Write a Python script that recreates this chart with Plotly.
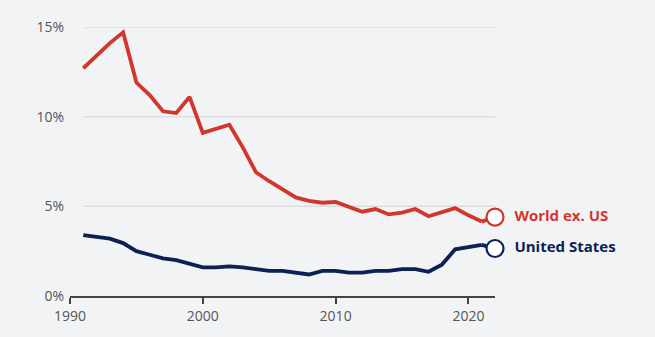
import plotly.graph_objects as go

years = list(range(1991, 2022))
world_ex_us = [12.7, 13.4, 14.1, 14.7, 11.9, 11.2, 10.3, 10.2, 11.1, 9.1, 9.3, 9.55, 8.3,
               6.9, 6.4, 5.95, 5.5, 5.3, 5.2, 5.25, 4.95, 4.7, 4.85, 4.55, 4.65, 4.85,
               4.45, 4.65, 4.9, 4.5, 4.15]
united_states = [3.4, 3.3, 3.2, 2.95, 2.5, 2.3, 2.1, 2.0, 1.8, 1.6, 1.6, 1.65, 1.6,
                 1.5, 1.4, 1.4, 1.3, 1.2, 1.4, 1.4, 1.3, 1.3, 1.4, 1.4, 1.5, 1.5,
                 1.35, 1.75, 2.6, 2.7, 2.85]
end_year = 2022
world_end = 4.4
us_end = 2.65
series_names = ["World ex. US", "United States"]
y_ticks = [0, 5, 10, 15]
x_ticks = [1990, 2000, 2010, 2020]

RED = "#d2372c"
NAVY = "#0b2252"
BG = "#f2f3f5"

fig = go.Figure()
for vals, endv, col, name in [(world_ex_us, world_end, RED, series_names[0]),
                              (united_states, us_end, NAVY, series_names[1])]:
    fig.add_trace(go.Scatter(x=years, y=vals, mode="lines",
                             line=dict(color=col, width=3.8), hoverinfo="skip",
                             showlegend=False))
    fig.add_trace(go.Scatter(x=[years[-1], end_year], y=[vals[-1], endv], mode="lines",
                             line=dict(color=col, width=3.8), showlegend=False))
    fig.add_trace(go.Scatter(x=[end_year], y=[endv], mode="markers+text",
                             marker=dict(size=17, color="white", line=dict(color=col, width=2.2)),
                             text=["  " + name], textposition="middle right",
                             textfont=dict(family="Open Sans", size=15, color=col, weight="bold"),
                             cliponaxis=False, showlegend=False))

shapes = []
for t in y_ticks[1:]:
    shapes.append(dict(type="line", xref="x", yref="y", x0=1991, x1=2022, y0=t, y1=t,
                       line=dict(color="#dcdde0", width=1.5), layer="below"))
fig.update_layout(
    width=655, height=337,
    margin=dict(l=70, r=160, t=27, b=41),
    paper_bgcolor=BG, plot_bgcolor=BG,
    shapes=shapes,
    font=dict(family="Open Sans", size=14, color="#555555"),
    xaxis=dict(range=[1990, 2022], tickvals=x_ticks, showgrid=False, zeroline=False,
               showline=True, linecolor="#444444", linewidth=2,
               ticks="outside", ticklen=6, tickwidth=2, tickcolor="#444444",
               tickfont=dict(size=14, color="#555555")),
    yaxis=dict(range=[0, 15], tickvals=y_ticks, ticktext=[f"{v}%" for v in y_ticks],
               showgrid=False, zeroline=False, showline=False, ticks="",
               ticklabelstandoff=5,
               tickfont=dict(size=14, color="#555555")),
)
fig.write_html("out.html")
